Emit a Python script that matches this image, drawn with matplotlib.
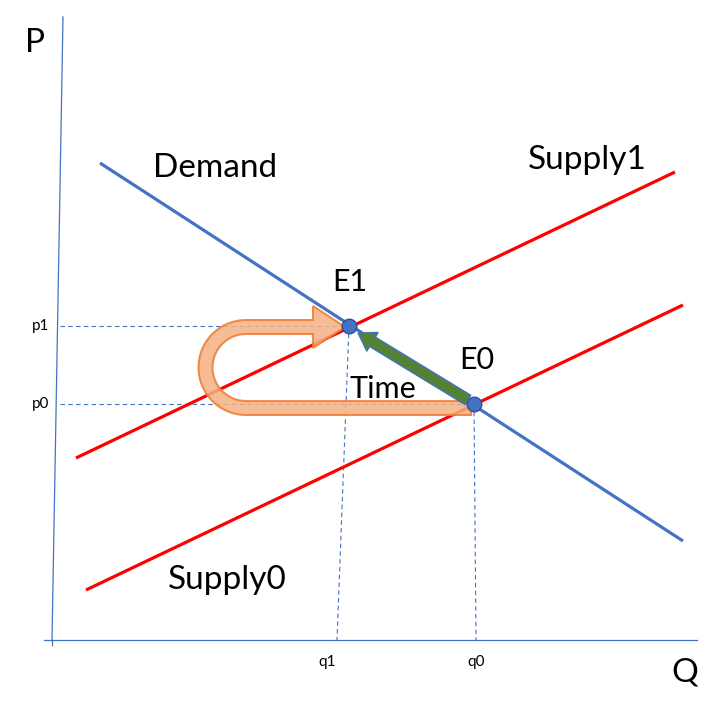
import numpy as np
import matplotlib.pyplot as plt
from matplotlib.path import Path
from matplotlib.patches import PathPatch

plt.rcParams['font.family'] = ['Lato', 'DejaVu Sans']

# curves (Q, P) endpoints
demand_q = [100, 683]
demand_p = [553, 175]
supply1_q = [76, 675]
supply1_p = [258, 544]
supply0_q = [86, 683]
supply0_p = [126, 411]

# equilibrium points
eq_names = ['E1', 'E0']
eq_q = [349, 474]
eq_p = [390, 312]
# where the dashed guides hit the Q axis
q_axis_pos = [337, 476]
q_labels = ['q1', 'q0']
p_labels = ['p1', 'p0']

BLUE = '#4472C4'
RED = '#FF0000'

fig = plt.figure(figsize=(7.2, 7.16), dpi=100)
ax = fig.add_axes([0, 0, 1, 1])
ax.set_xlim(0, 720)
ax.set_ylim(0, 716)
ax.axis('off')

# axes
ax.plot([52, 63], [76, 699], color=BLUE, lw=0.9)
ax.plot([44, 697], [76, 76], color=BLUE, lw=0.9)
ax.plot([52, 52], [71, 76], color=BLUE, lw=0.9)

# dashed guides
for q, p, qa in zip(eq_q, eq_p, q_axis_pos):
    ax.plot([60, q], [p, p], color=BLUE, lw=0.8, ls=(0, (4, 3)))
    ax.plot([q, qa], [p, 76], color=BLUE, lw=0.8, ls=(0, (4, 3)))

ax.plot(demand_q, demand_p, color=BLUE, lw=2.3, solid_capstyle='butt')
ax.plot(supply1_q, supply1_p, color=RED, lw=2.3, solid_capstyle='butt')
ax.plot(supply0_q, supply0_p, color=RED, lw=2.3, solid_capstyle='butt')

# U-turn arrow from E0 back to E1
cx = 246
lo, hi = eq_p[1] - 4, eq_p[0] - 1
cy = (lo + hi) / 2
r = (hi - lo) / 2
hw = 7
x_start = eq_q[1] - 3
tip = eq_q[0] - 4
head_base = tip - 32
t_out = np.linspace(-np.pi / 2, -3 * np.pi / 2, 40)
t_in = t_out[::-1]
outer = [(cx + (r + hw) * np.cos(t), cy + (r + hw) * np.sin(t)) for t in t_out]
inner = [(cx + (r - hw) * np.cos(t), cy + (r - hw) * np.sin(t)) for t in t_in]
verts = [(x_start, lo - hw)] + outer + [
    (head_base, hi + hw), (head_base, hi + 21), (tip, hi),
    (head_base, hi - 21), (head_base, hi - hw)] + inner + [(x_start, lo + hw), (x_start, lo - hw)]
codes = [Path.MOVETO] + [Path.LINETO] * (len(verts) - 2) + [Path.CLOSEPOLY]
ax.add_patch(PathPatch(Path(verts, codes), facecolor='#F4B183', edgecolor='#ED7D31',
                       lw=1.5, alpha=0.85, zorder=3))

# green arrow E0 -> E1
ax.arrow(eq_q[1] - 6, eq_p[1] + 4, eq_q[0] - eq_q[1] + 15, eq_p[0] - eq_p[1] - 11,
         width=11, head_width=22, head_length=17, length_includes_head=True,
         fc='#548235', ec=BLUE, lw=1, zorder=4)

ax.scatter(eq_q, eq_p, s=110, color=BLUE, edgecolors='#2F528F', linewidths=1, zorder=5)

# labels
ax.text(eq_q[0] + 1, 434, eq_names[0], fontsize=22, ha='center', va='center')
ax.text(eq_q[1] + 3, 356, eq_names[1], fontsize=22, ha='center', va='center')
for lab, p in zip(p_labels, eq_p):
    ax.text(41, p, lab, fontsize=11, ha='center', va='center')
for lab, qa in zip(q_labels, q_axis_pos):
    ax.text(qa - 10 if lab == 'q1' else qa, 54, lab, fontsize=11, ha='center', va='center')
ax.text(383, 327, 'Time', fontsize=22, ha='center', va='center', zorder=6)
ax.text(215, 548, 'Demand', fontsize=24, ha='center', va='center')
ax.text(587, 556, 'Supply1', fontsize=24, ha='center', va='center')
ax.text(227, 136, 'Supply0', fontsize=24, ha='center', va='center')
ax.text(35, 673, 'P', fontsize=24, ha='center', va='center')
ax.text(685, 43, 'Q', fontsize=24, ha='center', va='center')

fig.savefig('out.png', dpi=100)
